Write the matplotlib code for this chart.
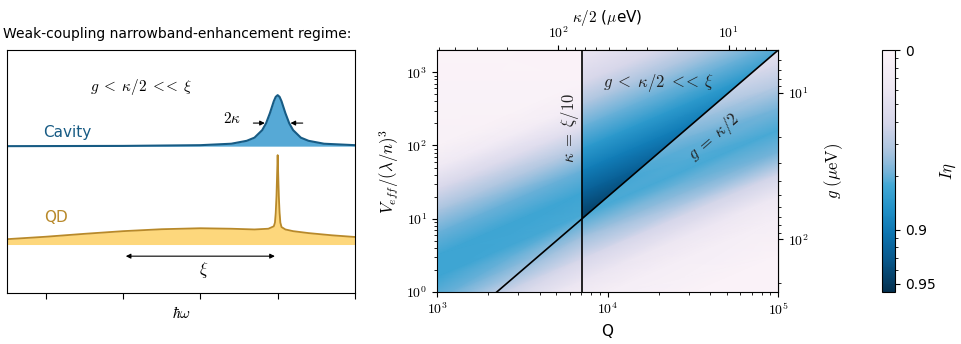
import numpy as np
import matplotlib
matplotlib.use("Agg")
import matplotlib.pyplot as plt
from matplotlib.colors import LinearSegmentedColormap, FuncNorm
from matplotlib.patches import Polygon
from matplotlib.ticker import FuncFormatter, NullFormatter

plt.rcParams["font.family"] = "DejaVu Sans"
plt.rcParams["mathtext.fontset"] = "cm"
plt.rcParams["font.size"] = 10

# ---- left panel: sketched spectra (x in units of the tick spacing) ----
cav_x = [-2.5, -1.0, 0.0, 0.4, 0.6, 0.7, 0.8, 0.85, 0.9, 0.95, 0.975, 1.0,
         1.025, 1.05, 1.1, 1.15, 1.2, 1.3, 1.4, 1.6, 2.0]
cav_y = [0.605, 0.606, 0.609, 0.615, 0.627, 0.640, 0.671, 0.699, 0.741, 0.790, 0.808, 0.815,
         0.808, 0.790, 0.741, 0.699, 0.671, 0.640, 0.627, 0.615, 0.609]
cav_base = 0.605

qd_x = [-2.5, -2.0, -1.5, -1.0, -0.5, 0.0, 0.4, 0.7, 0.88, 0.95, 0.965, 0.975, 0.985,
        0.993, 1.0, 1.007, 1.015, 1.025, 1.035, 1.05, 1.1, 1.2, 1.4, 1.7, 2.0]
qd_y = [0.222, 0.232, 0.244, 0.255, 0.263, 0.267, 0.265, 0.262, 0.265, 0.275, 0.29, 0.33, 0.40,
        0.49, 0.568, 0.49, 0.40, 0.33, 0.29, 0.272, 0.262, 0.255, 0.247, 0.238, 0.231]
qd_base = 0.2

# ---- right panel: I*eta map ----
Q_min, Q_max = 1e3, 1e5
Q_cross = 7080.0        # kappa = xi/10
V_cross = 10.0          # where g = kappa/2 crosses it
kappa_half_Q = 5.13e5   # (kappa/2 in ueV) * Q

# w = log10(Q / V); the map is read along these rows
w_A = [-0.5, 1.0, 1.3, 1.6, 1.9, 2.2, 2.5, 2.8, 3.1, 3.4, 3.7, 4.0, 4.5, 5.5]
Q_A = [1e3, Q_cross, 1e5]
eta_A_q1e3 = [0.03, 0.12, 0.35, 0.60, 0.73, 0.80, 0.83, 0.83, 0.80, 0.68, 0.45, 0.25, 0.10, 0.03]
eta_A_qcross = [0.03, 0.06, 0.20, 0.50, 0.70, 0.80, 0.83, 0.82, 0.74, 0.60, 0.40, 0.22, 0.08, 0.03]
eta_A_q1e5 = [0.03, 0.05, 0.15, 0.40, 0.58, 0.70, 0.79, 0.82, 0.79, 0.62, 0.38, 0.20, 0.08, 0.03]

# region g < kappa/2 << xi (triangle above g = kappa/2, right of kappa = xi/10)
w_B = [0.4, 0.7, 1.0, 1.3, 1.6, 1.9, 2.2, 2.5, 2.9]
Q_B = [Q_cross, 1e5]
eta_B_qcross = [0.35, 0.48, 0.60, 0.72, 0.80, 0.855, 0.895, 0.925, 0.95]
eta_B_q1e5 = [0.35, 0.48, 0.60, 0.72, 0.80, 0.855, 0.895, 0.925, 0.95]

cmap_stops = [0.0, 0.15, 0.3, 0.42, 0.5, 0.56, 0.66, 0.76, 0.87, 1.0]
cmap_colors = ["#fcf4f9", "#eee8f3", "#d6d6ea", "#a9c4df", "#78b4d9", "#42a8d5",
               "#2090c7", "#0c74b0", "#08578a", "#04304f"]
cmap = LinearSegmentedColormap.from_list("ieta", list(zip(cmap_stops, cmap_colors)))
norm = FuncNorm((lambda x: -np.log10(1 - np.asarray(x)), lambda y: 1 - 10 ** (-np.asarray(y))),
                vmin=0, vmax=0.955)

fig = plt.figure(figsize=(9.62, 3.44), dpi=100)

# ---- left panel ----
axl = fig.add_axes([0.0073, 0.148, 0.3617, 0.706])
axl.fill_between(cav_x, cav_base, cav_y, color="#56a9d6", lw=0)
axl.plot(cav_x, cav_y, color="#175b84", lw=1.5)
axl.fill_between(qd_x, qd_base, qd_y, color="#fdd77c", lw=0)
axl.plot(qd_x, qd_y, color="#b8892a", lw=1.3)
axl.set_xlim(-2.5, 2)
axl.set_ylim(0, 1)
axl.set_xticks([-2, -1, 0, 1, 2])
axl.set_xticklabels([])
axl.set_yticks([])
axl.tick_params(axis="x", length=4)
axl.set_xlabel(r"$\hbar\omega$", fontsize=11, labelpad=1)
axl.text(-0.77, 0.85, r"$g \;<\; \kappa/2 \;<\!\!<\; \xi$", fontsize=11, ha="center", va="center")
axl.text(-1.72, 0.66, "Cavity", color="#175b84", fontsize=11, ha="center", va="center")
axl.text(-1.87, 0.31, "QD", color="#b8892a", fontsize=11, ha="center", va="center")
axl.text(0.41, 0.72, r"$2\kappa$", fontsize=11, ha="center", va="center")
arrow = dict(arrowstyle="-|>", color="k", lw=0.8, mutation_scale=7)
axl.annotate("", xy=(0.87, 0.70), xytext=(0.65, 0.70), arrowprops=arrow)
axl.annotate("", xy=(1.13, 0.70), xytext=(1.36, 0.70), arrowprops=arrow)
axl.annotate("", xy=(-1, 0.152), xytext=(1, 0.152),
             arrowprops=dict(arrowstyle="<|-|>", color="k", lw=0.8, mutation_scale=7))
axl.text(0.04, 0.095, r"$\xi$", fontsize=12, ha="center", va="center")
fig.text(0.003, 0.9, "Weak-coupling narrowband-enhancement regime:", fontsize=10, va="center")

# ---- right panel ----
ax = fig.add_axes([0.4543, 0.151, 0.3545, 0.703])
V_top = V_cross * (Q_max / Q_cross) ** 2

QA = np.array(Q_A)
XA = np.broadcast_to(QA, (len(w_A), len(QA)))
YA = QA[None, :] / 10 ** np.array(w_A)[:, None]
CA = np.column_stack([eta_A_q1e3, eta_A_qcross, eta_A_q1e5])
meshA = ax.pcolormesh(XA, YA, CA, shading="gouraud", cmap=cmap, norm=norm)

QB = np.array(Q_B)
XB = np.broadcast_to(QB, (len(w_B), len(QB)))
YB = QB[None, :] / 10 ** np.array(w_B)[:, None]
CB = np.column_stack([eta_B_qcross, eta_B_q1e5])
meshB = ax.pcolormesh(XB, YB, CB, shading="gouraud", cmap=cmap, norm=norm)
tri = Polygon([(Q_cross, V_cross), (Q_cross, V_top), (Q_max, V_top)],
              closed=True, transform=ax.transData)
meshB.set_clip_path(tri)

ax.set_xscale("log")
ax.set_yscale("log")
ax.set_xlim(Q_min, Q_max)
ax.set_ylim(1, V_top)

ax.axvline(Q_cross, color="k", lw=1.2)
q_line = np.array([Q_min, Q_max])
ax.plot(q_line, V_cross * (q_line / Q_cross) ** 2, color="k", lw=1.2)

decade = FuncFormatter(lambda v, p: r"$10^{%d}$" % round(np.log10(v)))
ax.xaxis.set_major_formatter(decade)
ax.yaxis.set_major_formatter(decade)
ax.set_xlabel("Q", fontsize=11, labelpad=4)
ax.set_ylabel(r"$V_{eff}/(\lambda/n)^3$", fontsize=12, labelpad=4)

ax.text(6000, 175, r"$\kappa \;=\; \xi/10$", rotation=90, fontsize=12, ha="center", va="center",
        color="#222222")
ax.text(2.0e4, 720, r"$g \;<\; \kappa/2 \;<\!\!<\; \xi$", fontsize=12, ha="center", va="center",
        color="#222222")
ax.text(4.2e4, 128, r"$g \;=\; \kappa/2$", rotation=41, fontsize=12, ha="center", va="center",
        color="#222222")


def kappa_half(q):
    q = np.asarray(q, dtype=float)
    with np.errstate(divide="ignore"):
        return kappa_half_Q / q


g_cross = kappa_half_Q / Q_cross


def g_of_v(v):
    v = np.asarray(v, dtype=float)
    with np.errstate(divide="ignore", invalid="ignore"):
        return g_cross * np.sqrt(V_cross / v)


def v_of_g(g):
    g = np.asarray(g, dtype=float)
    with np.errstate(divide="ignore"):
        return V_cross * (g_cross / g) ** 2


top = ax.secondary_xaxis("top", functions=(kappa_half, kappa_half))
top.xaxis.set_major_formatter(decade)
top.xaxis.set_minor_formatter(NullFormatter())
top.set_xlabel(r"$\kappa/2$ ($\mu$eV)", fontsize=11, labelpad=2)

right = ax.secondary_yaxis("right", functions=(g_of_v, v_of_g))
right.yaxis.set_major_formatter(decade)
right.yaxis.set_minor_formatter(NullFormatter())
right.set_ylabel(r"$g\ (\mu\mathrm{eV})$", fontsize=12, labelpad=10)

for a in (ax, top, right):
    a.tick_params(which="major", length=3.5, width=0.8)
    a.tick_params(which="minor", length=2, width=0.6)

# ---- colorbar ----
cax = fig.add_axes([0.9168, 0.151, 0.0135, 0.703])
cb = fig.colorbar(meshA, cax=cax)
cb.ax.invert_yaxis()
cb.set_ticks([0, 0.9, 0.95])
cb.set_ticklabels(["0", "0.9", "0.95"])
cb.ax.set_yticks([0.1, 0.2, 0.3, 0.4, 0.5, 0.6, 0.7, 0.8, 0.91, 0.92, 0.93, 0.94], minor=True)
cb.ax.tick_params(which="major", length=3.5, labelsize=10)
cb.ax.tick_params(which="minor", length=2)
cb.set_label(r"$I\eta$", fontsize=12, labelpad=2)

fig.savefig("out.png", dpi=100)
